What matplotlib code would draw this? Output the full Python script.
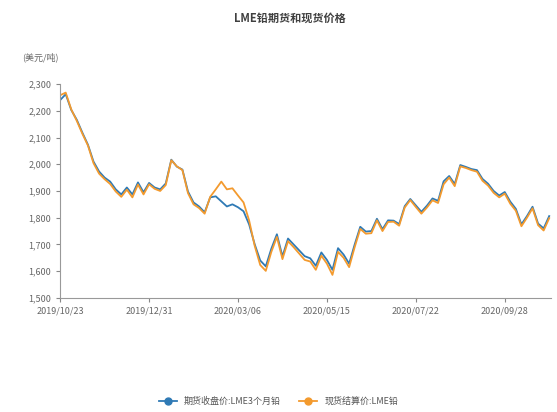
import numpy as np
import matplotlib.pyplot as plt

plt.rcParams['font.family'] = ['Noto Sans CJK SC', 'DejaVu Sans']

# 每3个交易日一个读数 (2019/10/23 起)
tick_labels = ['2019/10/23', '2019/12/31', '2020/03/06', '2020/05/15', '2020/07/22', '2020/09/28']
tick_pos = [0, 16, 32, 48, 64, 80]

futures = [2240, 2262, 2203, 2166, 2118, 2073, 2010, 1973, 1950, 1935,
           1906, 1887, 1913, 1887, 1932, 1895, 1930, 1913, 1906, 1928,
           2017, 1991, 1980, 1898, 1857, 1842, 1820, 1876, 1880, 1861,
           1842, 1850, 1839, 1824, 1775, 1701, 1640, 1618, 1684, 1738,
           1655, 1722, 1700, 1678, 1656, 1648, 1620, 1670, 1642, 1605,
           1686, 1662, 1628, 1700, 1766, 1748, 1750, 1796, 1757, 1790,
           1789, 1776, 1843, 1870, 1846, 1822, 1845, 1872, 1863, 1936,
           1956, 1926, 1997, 1990, 1982, 1978, 1945, 1927, 1900, 1883,
           1896, 1860, 1833, 1775, 1806, 1841, 1778, 1760, 1806]

spot = [2258, 2268, 2205, 2162, 2114, 2070, 2004, 1965, 1944, 1926,
        1898, 1878, 1905, 1876, 1924, 1887, 1925, 1908, 1900, 1922,
        2015, 1992, 1978, 1892, 1850, 1836, 1815, 1878, 1906, 1935,
        1906, 1910, 1883, 1857, 1790, 1695, 1623, 1601, 1672, 1728,
        1645, 1712, 1690, 1666, 1642, 1636, 1605, 1658, 1628, 1586,
        1672, 1650, 1615, 1690, 1758, 1740, 1742, 1790, 1750, 1784,
        1785, 1770, 1838, 1866, 1840, 1815, 1838, 1865, 1855, 1925,
        1950, 1918, 1992, 1986, 1978, 1972, 1938, 1920, 1893, 1876,
        1890, 1852, 1826, 1768, 1800, 1835, 1772, 1752, 1798]

x = np.arange(len(futures))

fig = plt.figure(figsize=(5.57, 4.12), dpi=100)
ax = fig.add_axes([0.108, 0.277, 0.881, 0.519])

ax.plot(x, futures, color='#2f7ab5', linewidth=1.3, label='期货收盘价:LME3个月铅')
ax.plot(x, spot, color='#f39a2e', linewidth=1.3, label='现货结算价:LME铅')

ax.set_xlim(0, 88.3)
ax.set_ylim(1500, 2300)
ax.set_yticks(np.arange(1500, 2301, 100))
ax.set_yticklabels(['{:,}'.format(v) for v in range(1500, 2301, 100)])
ax.set_xticks(tick_pos)
ax.set_xticklabels(tick_labels)
ax.tick_params(axis='both', labelsize=6.5, colors='#888888', labelcolor='#666666',
               length=3, direction='out')
for s in ['top', 'right']:
    ax.spines[s].set_visible(False)
for s in ['left', 'bottom']:
    ax.spines[s].set_color('#999999')
    ax.spines[s].set_linewidth(0.8)

fig.text(0.52, 0.955, 'LME铅期货和现货价格', ha='center', va='center',
         fontsize=8, color='#404040', fontweight='bold')
fig.text(0.04, 0.862, '(美元/吨)', ha='left', va='center', fontsize=6.5, color='#666666')

h1, = ax.plot([], [], color='#2f7ab5', marker='o', markersize=5, linewidth=1.3)
h2, = ax.plot([], [], color='#f39a2e', marker='o', markersize=5, linewidth=1.3)
fig.legend([h1, h2], ['期货收盘价:LME3个月铅', '现货结算价:LME铅'], loc='lower center',
           bbox_to_anchor=(0.5, -0.005), ncol=2, frameon=False, fontsize=6.5,
           handlelength=2.0, columnspacing=2.0, labelcolor='#555555')

plt.savefig('out.png', dpi=100)
plt.close()
